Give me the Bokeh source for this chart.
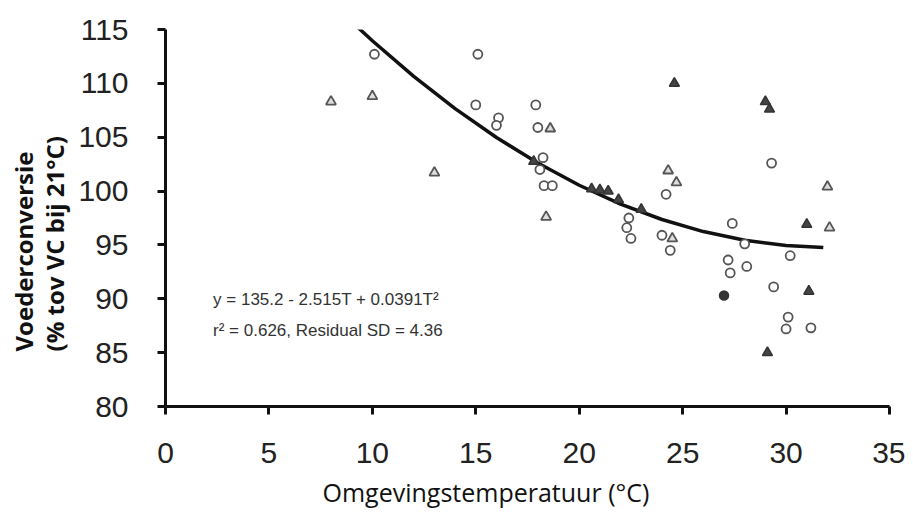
from bokeh.plotting import figure
from bokeh.models import Range1d, FixedTicker, Label, Title
from bokeh.embed import file_html
from bokeh.resources import INLINE

# --- data ---
circle_x = [10.1, 15.1, 15.0, 17.9, 16.1, 16.0, 18.0, 18.25, 18.1, 18.3, 18.7,
            29.3, 24.2, 22.4, 22.3, 22.5, 24.0, 24.4, 27.4, 28.0, 30.2, 27.2,
            27.3, 28.1, 29.4, 30.1, 30.0, 31.2]
circle_y = [112.7, 112.7, 108.0, 108.0, 106.8, 106.1, 105.9, 103.1, 102.0, 100.5, 100.5,
            102.6, 99.7, 97.5, 96.6, 95.6, 95.9, 94.5, 97.0, 95.1, 94.0, 93.6,
            92.4, 93.0, 91.1, 88.3, 87.2, 87.3]
filled_circle_x = [27.0]
filled_circle_y = [90.3]

tri_x = [8.0, 10.0, 18.6, 13.0, 18.4, 24.3, 24.7, 24.5, 32.0, 32.1]
tri_y = [108.3, 108.8, 105.8, 101.7, 97.6, 101.9, 100.8, 95.6, 100.4, 96.6]
filled_tri_x = [24.6, 29.0, 29.2, 29.1, 31.0, 31.1, 17.8, 20.6, 21.0, 21.4, 21.9, 23.0]
filled_tri_y = [110.0, 108.3, 107.6, 85.0, 96.9, 90.7, 102.75, 100.2, 100.1, 100.0, 99.2, 98.3]

curve_t = [9.2, 10, 12, 14, 16, 18, 20, 22, 24, 26, 28, 30, 31.8]
curve_y = [115.37, 113.96, 110.65, 107.65, 104.97, 102.60, 100.54, 98.79, 97.36,
           96.24, 95.43, 94.94, 94.76]

x_ticks = [0, 5, 10, 15, 20, 25, 30, 35]
y_ticks = [80, 85, 90, 95, 100, 105, 110, 115]

y_label = "Voederconversie\n(% tov VC bij 21°C)"
x_label = "Omgevingstemperatuur (°C)"
eq_line1 = "y = 135.2 - 2.515T + 0.0391T²"
eq_line2 = "r² = 0.626, Residual SD = 4.36"

p = figure(width=905, height=515, output_backend="svg", toolbar_location=None,
           x_range=Range1d(0, 35), y_range=Range1d(80, 115),
           min_border_left=0, min_border_right=16, min_border_top=29,
           min_border_bottom=0)
p.outline_line_color = None
p.xgrid.visible = False
p.ygrid.visible = False
p.background_fill_color = "white"

for ax in (p.xaxis[0], p.yaxis[0]):
    ax.axis_line_width = 3
    ax.axis_line_color = "#111111"
    ax.major_tick_line_width = 3
    ax.major_tick_line_color = "#111111"
    ax.major_tick_out = 8
    ax.major_tick_in = 0
    ax.minor_tick_line_color = None
    ax.major_label_text_font = "Liberation Sans"
    ax.major_label_text_font_size = "30px"
    ax.major_label_text_color = "#222222"

p.xaxis.ticker = FixedTicker(ticks=x_ticks)
p.yaxis.ticker = FixedTicker(ticks=y_ticks)
p.xaxis.major_label_standoff = 28
p.yaxis.major_label_standoff = 29

# x axis title, shifted left like the reference
p.add_layout(Title(text=x_label, align="left", offset=157, standoff=14,
                   text_font="Open Sans", text_font_style="normal",
                   text_font_size="25px", text_color="#111111"), "below")

# y axis title (two lines), shifted down like the reference
p.add_layout(Title(text=y_label, align="left", offset=55, standoff=9,
                   text_font="Open Sans", text_font_style="bold",
                   text_font_size="24px", text_line_height=0.95,
                   text_color="#111111"), "left")

p.line(curve_t, curve_y, line_color="#111111", line_width=3.5)

p.scatter(circle_x, circle_y, marker="circle", size=9, fill_color="white",
          line_color="#555555", line_width=1.8)
p.scatter(filled_circle_x, filled_circle_y, marker="circle", size=9,
          fill_color="#333333", line_color="#333333", line_width=1.5)
p.scatter(tri_x, tri_y, marker="triangle", size=10, fill_color="#dddddd",
          line_color="#555555", line_width=1.8)
p.scatter(filled_tri_x, filled_tri_y, marker="triangle", size=10,
          fill_color="#444444", line_color="#333333", line_width=1.5)

p.add_layout(Label(x=2.3, y=89.9, text=eq_line1, text_font="Liberation Sans",
                   text_font_size="17px", text_color="#333333",
                   text_baseline="middle"))
p.add_layout(Label(x=2.3, y=87.1, text=eq_line2, text_font="Liberation Sans",
                   text_font_size="17px", text_color="#333333",
                   text_baseline="middle"))

open("out.html", "w").write(file_html(p, INLINE))
